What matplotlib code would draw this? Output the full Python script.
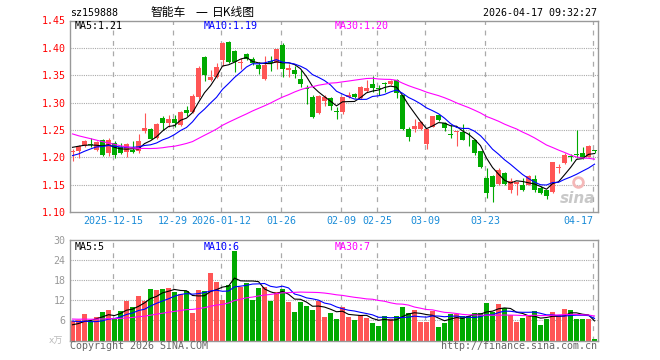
import numpy as np
import pandas as pd
import matplotlib
matplotlib.use("Agg")
import matplotlib.pyplot as plt

plt.rcParams['lines.scale_dashes'] = False

W, H = 660, 360

# ── DONNÉES ───────────────────────────────────────────────────────────────
opens = [1.209, 1.211, 1.220, 1.224, 1.213, 1.231, 1.208, 1.227, 1.218, 1.210,
         1.213, 1.212, 1.248, 1.251, 1.236, 1.272, 1.262, 1.270, 1.259, 1.286,
         1.283, 1.311, 1.383, 1.342, 1.346, 1.378, 1.410, 1.394, 1.372, 1.388,
         1.380, 1.369, 1.343, 1.376, 1.372, 1.406, 1.359, 1.359, 1.343, 1.327,
         1.310, 1.281, 1.302, 1.308, 1.284, 1.282, 1.311, 1.316, 1.308, 1.322,
         1.334, 1.326, 1.336, 1.334, 1.342, 1.313, 1.251, 1.251, 1.251, 1.225,
         1.256, 1.277, 1.262, 1.243, 1.246, 1.247, 1.239, 1.232, 1.211, 1.163,
         1.166, 1.152, 1.171, 1.140, 1.152, 1.149, 1.149, 1.160, 1.144, 1.140,
         1.136, 1.181, 1.189, 1.201, 1.206, 1.207, 1.201, 1.212]
closes = [1.211, 1.220, 1.229, 1.222, 1.228, 1.205, 1.231, 1.205, 1.208, 1.225,
          1.209, 1.229, 1.254, 1.234, 1.261, 1.262, 1.270, 1.263, 1.282, 1.281,
          1.312, 1.364, 1.351, 1.346, 1.365, 1.408, 1.375, 1.375, 1.374, 1.380,
          1.372, 1.362, 1.369, 1.373, 1.397, 1.362, 1.363, 1.353, 1.334, 1.325,
          1.273, 1.312, 1.310, 1.293, 1.282, 1.310, 1.314, 1.311, 1.328, 1.326,
          1.326, 1.324, 1.334, 1.340, 1.317, 1.251, 1.237, 1.258, 1.265, 1.251,
          1.275, 1.268, 1.253, 1.241, 1.247, 1.232, 1.238, 1.207, 1.182, 1.134,
          1.146, 1.177, 1.151, 1.157, 1.154, 1.140, 1.165, 1.140, 1.134, 1.129,
          1.191, 1.182, 1.204, 1.200, 1.204, 1.198, 1.221, 1.211]
highs = [1.216, 1.222, 1.232, 1.236, 1.230, 1.233, 1.236, 1.229, 1.227, 1.227,
         1.230, 1.242, 1.281, 1.253, 1.262, 1.275, 1.277, 1.277, 1.285, 1.294,
         1.315, 1.367, 1.385, 1.360, 1.372, 1.410, 1.412, 1.396, 1.381, 1.391,
         1.384, 1.375, 1.386, 1.385, 1.398, 1.409, 1.370, 1.367, 1.360, 1.333,
         1.314, 1.313, 1.314, 1.310, 1.291, 1.311, 1.320, 1.318, 1.330, 1.342,
         1.348, 1.333, 1.338, 1.341, 1.343, 1.314, 1.255, 1.270, 1.266, 1.252,
         1.276, 1.279, 1.264, 1.259, 1.248, 1.260, 1.247, 1.234, 1.212, 1.181,
         1.168, 1.180, 1.173, 1.162, 1.155, 1.162, 1.167, 1.167, 1.148, 1.140,
         1.192, 1.188, 1.207, 1.206, 1.250, 1.219, 1.223, 1.213]
lows = [1.193, 1.199, 1.218, 1.218, 1.211, 1.203, 1.202, 1.199, 1.206, 1.200,
        1.208, 1.208, 1.244, 1.233, 1.234, 1.250, 1.256, 1.256, 1.257, 1.275,
        1.281, 1.307, 1.340, 1.340, 1.344, 1.366, 1.372, 1.355, 1.361, 1.377,
        1.369, 1.352, 1.342, 1.358, 1.361, 1.347, 1.347, 1.345, 1.328, 1.298,
        1.272, 1.280, 1.293, 1.286, 1.270, 1.280, 1.308, 1.309, 1.307, 1.320,
        1.320, 1.314, 1.320, 1.333, 1.308, 1.250, 1.229, 1.247, 1.250, 1.215,
        1.255, 1.266, 1.248, 1.236, 1.220, 1.232, 1.220, 1.205, 1.180, 1.125,
        1.119, 1.150, 1.149, 1.134, 1.131, 1.139, 1.149, 1.137, 1.132, 1.124,
        1.134, 1.171, 1.187, 1.193, 1.199, 1.196, 1.200, 1.207]
# volume, en 万
volumes = [5.7, 6.0, 8.0, 5.7, 7.1, 8.5, 9.2, 6.7, 8.9, 11.9,
           10.1, 13.4, 11.8, 15.4, 15.1, 15.4, 15.8, 14.5, 13.9, 14.7,
           8.3, 15.1, 14.8, 20.2, 17.5, 12.1, 16.6, 26.8, 16.1, 17.2,
           12.1, 15.7, 15.9, 11.8, 14.5, 15.4, 11.5, 8.6, 11.5, 10.3,
           9.2, 11.8, 7.1, 8.3, 6.5, 10.0, 7.1, 6.2, 7.5, 6.8,
           5.3, 4.4, 7.4, 6.5, 7.4, 10.0, 8.3, 9.2, 5.6, 5.6,
           8.9, 4.1, 5.3, 8.0, 8.0, 7.4, 7.4, 8.3, 8.3, 11.2,
           8.6, 10.9, 9.6, 7.5, 5.6, 6.8, 7.4, 8.9, 4.7, 6.5,
           8.6, 7.5, 9.5, 9.2, 6.5, 6.5, 6.5, 0.5]

# séances avant la fenêtre (seulement pour amorcer les moyennes mobiles)
prev_closes = [1.32, 1.31, 1.30, 1.31, 1.29, 1.30, 1.28, 1.29, 1.28, 1.27,
               1.26, 1.25, 1.24, 1.25, 1.23, 1.22, 1.23, 1.21, 1.20, 1.21,
               1.19, 1.18, 1.18, 1.19, 1.20, 1.21, 1.22, 1.22, 1.23]
prev_volumes = [7.5, 6.8, 7.2, 6.1, 6.5, 7.0, 6.3, 6.9, 7.4, 6.2,
                6.6, 7.1, 6.4, 6.0, 6.8, 7.3, 6.5, 6.2, 6.9, 6.3,
                7.8, 6.5, 7.2, 6.9, 6.1, 4.2, 4.8, 4.5, 4.3]

tick_pos = [7, 17, 25, 35, 45, 51, 59, 69, 87]
tick_labels = ["2025-12-15", "12-29", "2026-01-12", "01-26", "02-09",
               "02-25", "03-09", "03-23", "04-17"]
price_ticks = [1.10, 1.15, 1.20, 1.25, 1.30, 1.35, 1.40, 1.45]
vol_ticks = [6, 12, 18, 24, 30]

RED, GREEN = '#ff5555', '#00aa00'
GRID = '#aaaaaa'
MONO = 'DejaVu Sans Mono'
CJK = ['Noto Sans CJK SC', 'DejaVu Sans']


def ma(prev, vals, n):
    s = pd.Series(list(prev) + list(vals)).rolling(n).mean().to_numpy()
    return s[len(prev):]


def fx(px):
    return px / W


def fy(py):
    return 1 - py / H


x = np.arange(len(closes))
o = np.array(opens)
c = np.array(closes)
cols = [RED if cc >= oo else GREEN for oo, cc in zip(o, c)]

fig = plt.figure(figsize=(6.6, 3.6), dpi=100)
ax = fig.add_axes([fx(69.5), fy(212), fx(598) - fx(69.5), fy(20.5) - fy(212)])
axv = fig.add_axes([fx(69.5), fy(340.5), fx(598) - fx(69.5), fy(240) - fy(340.5)])

for a in (ax, axv):
    a.set_xlim(-0.5, 87.58)
    for s in a.spines.values():
        s.set_color('#999999')
        s.set_linewidth(1.0)
    for t in tick_pos:
        a.axvline(t - 0.25, color=GRID, lw=0.9, ls=(0, (3.5, 4)), zorder=0)

# ── K线 ───────────────────────────────────────────────────────────────────
ax.set_ylim(1.10, 1.45)
for p in price_ticks[1:-1]:
    ax.axhline(p, color=GRID, lw=0.8, ls=(0, (0.8, 0.8)), zorder=0)
ax.vlines(x, lows, highs, colors=cols, lw=0.8, zorder=2)
ax.bar(x, np.maximum(np.abs(c - o), 0.0016), bottom=np.minimum(o, c),
       width=0.83, color=cols, linewidth=0, zorder=2)
ax.plot(x, ma(prev_closes, closes, 5), color='black', lw=0.8, zorder=3)
ax.plot(x, ma(prev_closes, closes, 10), color='#0000ff', lw=0.8, zorder=3)
ax.plot(x, ma(prev_closes, closes, 30), color='#ff00ff', lw=0.8, zorder=3)

ax.set_yticks(price_ticks)
ax.set_yticklabels([f"{p:.2f}" for p in price_ticks], color='red',
                   fontfamily=MONO, fontsize=7.2)
ax.set_xticks(np.array(tick_pos) - 0.25)
ax.set_xticklabels(tick_labels, color='#1a8cd8', fontfamily=MONO, fontsize=7.2)
ax.get_xticklabels()[-1].set_ha('right')
ax.tick_params(length=0, pad=3)

# filigrane
ax.plot([84.3], [1.155], marker='o', ms=7, mfc='none', mec='#f4b8b8', mew=2, zorder=1)
ax.text(0.995, 0.03, 'sina', transform=ax.transAxes, ha='right', va='bottom',
        fontsize=11, fontweight='bold', style='italic', color='#bbbbbb', alpha=0.8)

# ── Volume ────────────────────────────────────────────────────────────────
axv.set_ylim(0, 30)
for v in vol_ticks[:-1]:
    axv.axhline(v, color=GRID, lw=0.8, ls=(0, (0.8, 0.8)), zorder=0)
axv.bar(x, volumes, width=0.83, color=cols, linewidth=0, zorder=2)
axv.plot(x, ma(prev_volumes, volumes, 5), color='black', lw=0.8, zorder=3)
axv.plot(x, ma(prev_volumes, volumes, 10), color='#0000ff', lw=0.8, zorder=3)
axv.plot(x, ma(prev_volumes, volumes, 30), color='#ff00ff', lw=0.8, zorder=3)
axv.set_yticks(vol_ticks)
axv.set_yticklabels([str(v) for v in vol_ticks], color='#999999',
                    fontfamily=MONO, fontsize=7.2)
axv.set_xticks(np.array(tick_pos) - 0.25)
axv.set_xticklabels([])
axv.tick_params(length=0, pad=3)

# ── Textes ────────────────────────────────────────────────────────────────
txt = dict(fontfamily=MONO, fontsize=7.2, va='center')
fig.text(fx(70), fy(13), "sz159888", color='black', **txt)
fig.text(fx(150), fy(12.5), "智能车", fontsize=8.5, va='center', family=CJK)
fig.text(fx(195), fy(12.5), "一", fontsize=8.5, va='center', family=CJK)
fig.text(fx(212), fy(12.5), "日K线图", fontsize=8.5, va='center', family=CJK)
fig.text(fx(597), fy(13), "2026-04-17 09:32:27", ha='right', color='black', **txt)

fig.text(fx(75), fy(26), "MA5:1.21", color='black', **txt)
fig.text(fx(204), fy(26), "MA10:1.19", color='#0000ff', **txt)
fig.text(fx(335), fy(26), "MA30:1.20", color='#ff00ff', **txt)

fig.text(fx(75), fy(247), "MA5:5", color='black', **txt)
fig.text(fx(204), fy(247), "MA10:6", color='#0000ff', **txt)
fig.text(fx(335), fy(247), "MA30:7", color='#ff00ff', **txt)

fig.text(fx(63), fy(341), "x万", ha='right', va='center', fontsize=6.5,
         color='#bbbbbb', family=['DejaVu Sans', 'Noto Sans CJK SC'])
fig.text(fx(70), fy(346), "Copyright 2026 SINA.COM", color='#666666', **txt)
fig.text(fx(597), fy(346), "http://finance.sina.com.cn", ha='right',
         color='#666666', **txt)

fig.savefig("out.png", dpi=100)
